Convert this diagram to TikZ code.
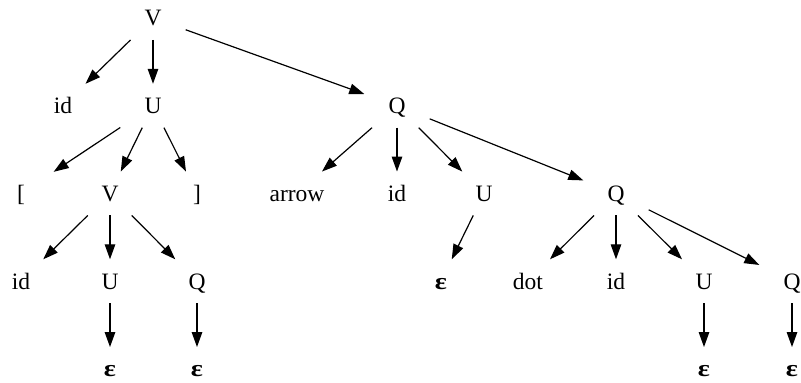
\documentclass[tikz,border=0pt]{standalone}
\usepackage{fontspec}
\setmainfont{Liberation Serif}
\usetikzlibrary{arrows.meta}
\newcommand{\epsglyph}{\scalebox{1.2}[1.0]{\bfseries ε}}
\tikzset{
  lbl/.style={rectangle, minimum width=65pt, minimum height=43.5pt, inner sep=0pt,
    text height=15.6pt, text depth=0pt, font=\fontsize{23.5}{28}\selectfont},
  edg/.style={-{Triangle[length=15pt,width=10.5pt]}, line width=1.2pt}
}
\begin{document}
\begin{tikzpicture}[x=1pt,y=-1pt]
\useasboundingbox (0,0) rectangle (801,383);
% row 0
\node[lbl] (v0) at (153,18) {V};
% row 1
\node[lbl] (id1) at (63,105.75) {id};
\node[lbl] (u1) at (153,105.75) {U};
\node[lbl] (q1) at (397,105.75) {Q};
% row 2
\node[lbl] (lb2) at (21,193.5) {[};
\node[lbl] (v2) at (110,193.5) {V};
\node[lbl] (rb2) at (197,193.5) {]};
\node[lbl] (ar2) at (297,193.5) {arrow};
\node[lbl] (id2) at (397,193.5) {id};
\node[lbl] (u2) at (484,193.5) {U};
\node[lbl] (q2) at (616,193.5) {Q};
% row 3
\node[lbl] (id3) at (21,281.25) {id};
\node[lbl] (u3) at (110,281.25) {U};
\node[lbl] (q3) at (197,281.25) {Q};
\node[lbl] (e3) at (441,281.25) {\epsglyph};
\node[lbl] (dot3) at (528,281.25) {dot};
\node[lbl] (id3b) at (616,281.25) {id};
\node[lbl] (u3b) at (704,281.25) {U};
\node[lbl] (q3b) at (792,281.25) {Q};
% row 4
\node[lbl] (e4a) at (110,369) {\epsglyph};
\node[lbl] (e4b) at (197,369) {\epsglyph};
\node[lbl] (e4c) at (704,369) {\epsglyph};
\node[lbl] (e4d) at (792,369) {\epsglyph};
% edges
\draw[edg] (v0) -- (id1);
\draw[edg] (v0) -- (u1);
\draw[edg] (v0) -- (q1);
\draw[edg] (u1) -- (lb2);
\draw[edg] (u1) -- (v2);
\draw[edg] (u1) -- (rb2);
\draw[edg] (v2) -- (id3);
\draw[edg] (v2) -- (u3);
\draw[edg] (v2) -- (q3);
\draw[edg] (u3) -- (e4a);
\draw[edg] (q3) -- (e4b);
\draw[edg] (q1) -- (ar2);
\draw[edg] (q1) -- (id2);
\draw[edg] (q1) -- (u2);
\draw[edg] (q1) -- (q2);
\draw[edg] (u2) -- (e3);
\draw[edg] (q2) -- (dot3);
\draw[edg] (q2) -- (id3b);
\draw[edg] (q2) -- (u3b);
\draw[edg] (q2) -- (q3b);
\draw[edg] (u3b) -- (e4c);
\draw[edg] (q3b) -- (e4d);
\end{tikzpicture}
\end{document}
